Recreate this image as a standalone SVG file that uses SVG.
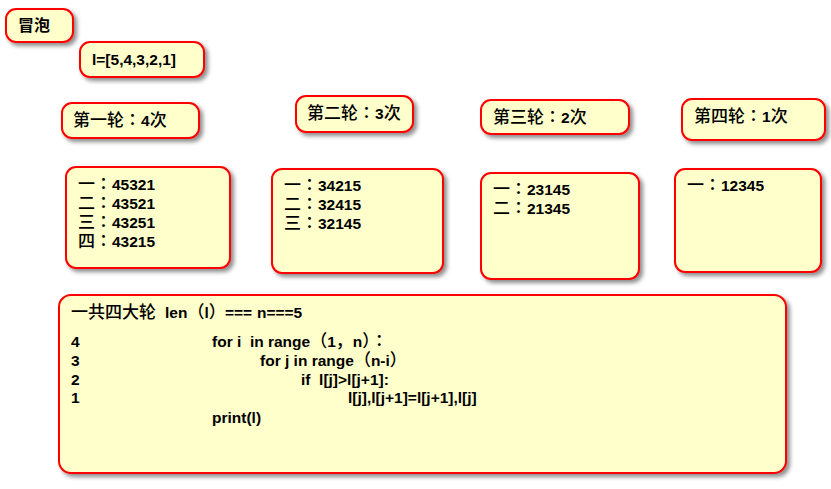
<svg xmlns="http://www.w3.org/2000/svg" width="831" height="489" viewBox="0 0 831 489">
<defs>
<filter id="sh" x="-10%" y="-10%" width="130%" height="140%">
<feDropShadow dx="3" dy="3" stdDeviation="2" flood-color="#000" flood-opacity="0.45"/>
</filter>
<style>
.b{fill:#FFFFCC;stroke:#FF0000;stroke-width:2;filter:url(#sh)}
text{font-family:"Liberation Sans","Noto Sans CJK SC",sans-serif;font-size:15.5px;font-weight:bold;fill:#000}
.c{font-family:"Noto Sans CJK SC",sans-serif;font-size:17px;font-weight:500}
.k{font-family:"Noto Sans CJK JP",sans-serif;font-size:17px;font-weight:500}
.cb{font-family:"Noto Sans CJK SC",sans-serif;font-size:16px;font-weight:bold}
</style>
</defs>
<g id="n-title"><rect class="b" x="6" y="9" width="67" height="33" rx="10"/><text x="18" y="31" class="cb">冒泡</text></g>
<g id="n-list"><rect class="b" x="80" y="42" width="124" height="35" rx="10"/><text x="92" y="65">l=[5,4,3,2,1]</text></g>
<g id="n-r1"><rect class="b" x="62" y="103" width="137" height="35" rx="10"/><text x="73" y="126"><tspan class="c">第一轮</tspan><tspan class="k">：</tspan><tspan>4</tspan><tspan class="c">次</tspan></text></g>
<g id="n-r2"><rect class="b" x="296" y="96" width="117" height="36" rx="10"/><text x="307" y="119"><tspan class="c">第二轮</tspan><tspan class="k">：</tspan><tspan>3</tspan><tspan class="c">次</tspan></text></g>
<g id="n-r3"><rect class="b" x="481" y="100" width="148" height="34" rx="10"/><text x="493" y="123"><tspan class="c">第三轮</tspan><tspan class="k">：</tspan><tspan>2</tspan><tspan class="c">次</tspan></text></g>
<g id="n-r4"><rect class="b" x="682" y="99" width="143" height="41" rx="10"/><text x="694" y="122"><tspan class="c">第四轮</tspan><tspan class="k">：</tspan><tspan>1</tspan><tspan class="c">次</tspan></text></g>
<g id="n-s1"><rect class="b" x="66" y="167" width="164" height="101" rx="10"/>
<text x="78" y="190"><tspan class="c">一</tspan><tspan class="k">：</tspan><tspan>45321</tspan></text>
<text x="78" y="209"><tspan class="c">二</tspan><tspan class="k">：</tspan><tspan>43521</tspan></text>
<text x="78" y="228"><tspan class="c">三</tspan><tspan class="k">：</tspan><tspan>43251</tspan></text>
<text x="78" y="247"><tspan class="c">四</tspan><tspan class="k">：</tspan><tspan>43215</tspan></text></g>
<g id="n-s2"><rect class="b" x="272" y="169" width="171" height="104" rx="10"/>
<text x="284" y="191"><tspan class="c">一</tspan><tspan class="k">：</tspan><tspan>34215</tspan></text>
<text x="284" y="210"><tspan class="c">二</tspan><tspan class="k">：</tspan><tspan>32415</tspan></text>
<text x="284" y="229"><tspan class="c">三</tspan><tspan class="k">：</tspan><tspan>32145</tspan></text></g>
<g id="n-s3"><rect class="b" x="481" y="173" width="158" height="106" rx="10"/>
<text x="493" y="195"><tspan class="c">一</tspan><tspan class="k">：</tspan><tspan>23145</tspan></text>
<text x="493" y="214"><tspan class="c">二</tspan><tspan class="k">：</tspan><tspan>21345</tspan></text></g>
<g id="n-s4"><rect class="b" x="675" y="169" width="146" height="103" rx="10"/>
<text x="687" y="191"><tspan class="c">一</tspan><tspan class="k">：</tspan><tspan>12345</tspan></text></g>
<g id="n-code"><rect class="b" x="59" y="295" width="727" height="178" rx="12"/>
<text y="318"><tspan class="c" x="71">一共四大轮</tspan><tspan x="165">len</tspan><tspan class="c">（</tspan><tspan>l</tspan><tspan class="c">）</tspan><tspan x="225">===</tspan><tspan x="257">n===5</tspan></text>
<text x="71" y="347">4</text>
<text x="71" y="366">3</text>
<text x="71" y="385">2</text>
<text x="71" y="403">1</text>
<text y="347"><tspan x="212" xml:space="preserve">for i  in range</tspan><tspan class="c">（</tspan><tspan>1</tspan><tspan class="c">，</tspan><tspan>n</tspan><tspan class="c">）</tspan><tspan class="k">：</tspan></text>
<text y="366"><tspan x="260">for j in range</tspan><tspan class="c">（</tspan><tspan>n-i</tspan><tspan class="c">）</tspan></text>
<text y="385" x="301" xml:space="preserve">if  l[j]&gt;l[j+1]:</text>
<text y="403" x="348">l[j],l[j+1]=l[j+1],l[j]</text>
<text y="423" x="212">print(l)</text></g>
<g id="connectors"/>
</svg>
